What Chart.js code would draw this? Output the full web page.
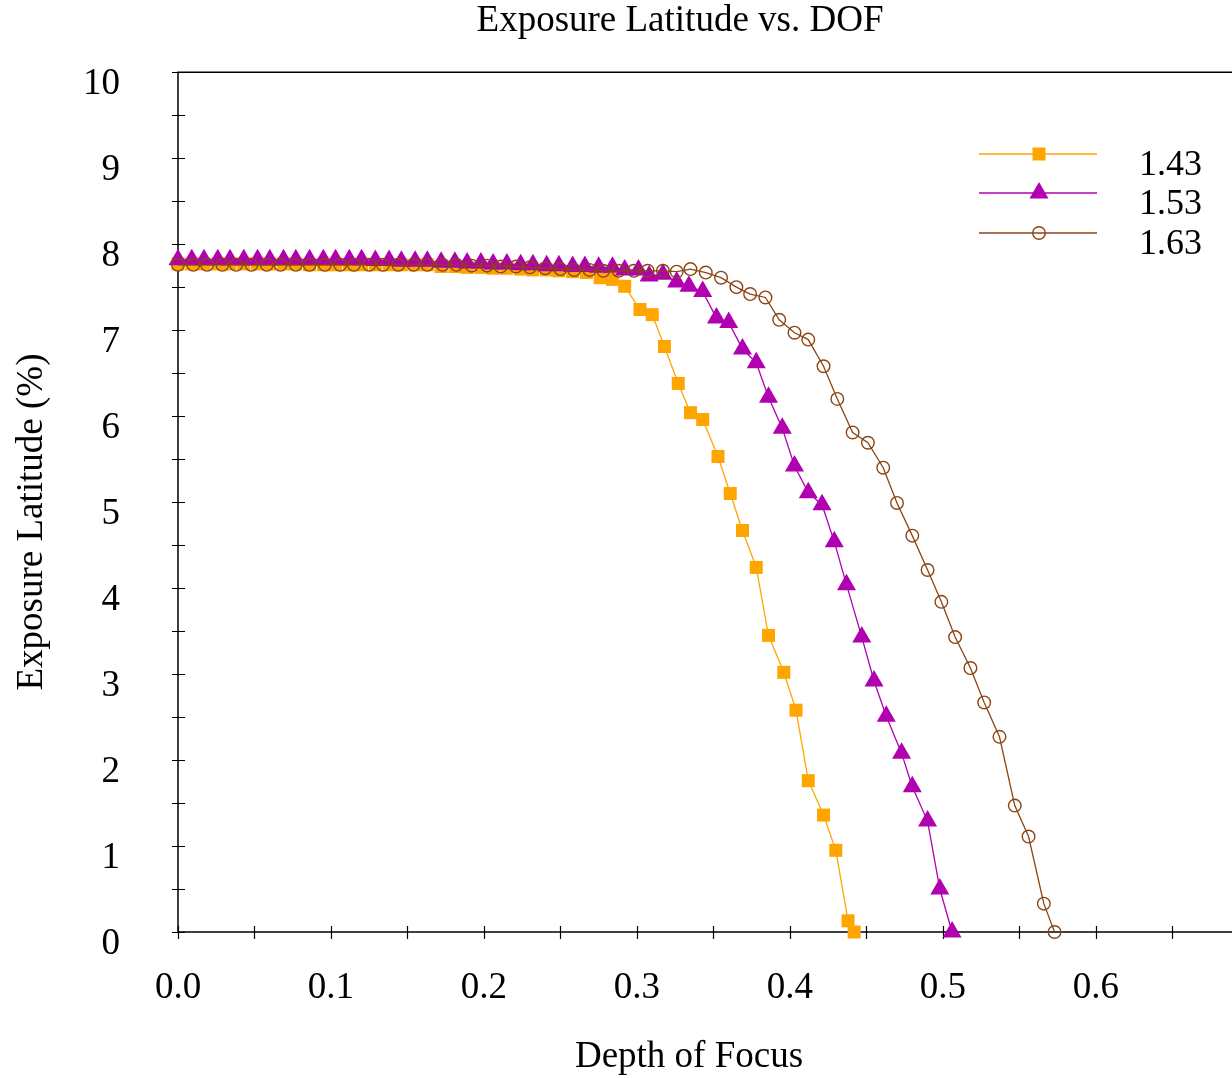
<!DOCTYPE html>
<html lang="en">
<head>
  <meta charset="UTF-8">
  <title>Exposure Latitude vs. DOF</title>
  <script src="https://cdn.jsdelivr.net/npm/chart.js"></script>
  <style>
    body {
      margin: 0;
      background: #fff;
    }
    .chart-box {
      width: 1232px;
      height: 1078px;
    }
  </style>
</head>
<body>
  <div class="chart-box">
    <canvas id="dofChart" width="1232" height="1078"></canvas>
  </div>

  <script>
    // series 1.43 (orange squares)
    const x143 = [0.000, 0.009, 0.017, 0.026, 0.034, 0.043, 0.052, 0.060, 0.069, 0.077,
      0.086, 0.095, 0.103, 0.112, 0.120, 0.129, 0.138, 0.146, 0.155, 0.163,
      0.172, 0.181, 0.189, 0.198, 0.206, 0.215, 0.224, 0.232, 0.241, 0.249, 0.258,
      0.267, 0.276, 0.284, 0.292, 0.302, 0.310, 0.318, 0.327, 0.335, 0.343,
      0.353, 0.361, 0.369, 0.378, 0.386, 0.396, 0.404, 0.412, 0.422, 0.430, 0.438, 0.442];
    const y143 = [7.77, 7.77, 7.77, 7.77, 7.77, 7.77, 7.77, 7.77, 7.77, 7.77,
      7.76, 7.76, 7.76, 7.76, 7.76, 7.76, 7.76, 7.76, 7.76, 7.76,
      7.74, 7.74, 7.73, 7.73, 7.72, 7.72, 7.71, 7.70, 7.70, 7.69, 7.68,
      7.67, 7.61, 7.59, 7.51, 7.24, 7.18, 6.81, 6.38, 6.04, 5.96,
      5.53, 5.10, 4.67, 4.24, 3.45, 3.02, 2.58, 1.76, 1.36, 0.95, 0.13, 0.00];

    // series 1.53 (magenta triangles)
    const x153 = [0.000, 0.009, 0.017, 0.026, 0.034, 0.043, 0.052, 0.060, 0.069, 0.077,
      0.086, 0.095, 0.103, 0.112, 0.120, 0.129, 0.138, 0.146, 0.155, 0.163,
      0.172, 0.181, 0.189, 0.198, 0.206, 0.215, 0.224, 0.232, 0.241, 0.249,
      0.258, 0.266, 0.275, 0.284, 0.292, 0.301, 0.308, 0.317, 0.326, 0.334,
      0.343, 0.352, 0.360, 0.369, 0.378, 0.386, 0.395, 0.403, 0.412, 0.421,
      0.429, 0.437, 0.447, 0.455, 0.463, 0.473, 0.480, 0.490, 0.498, 0.506];
    const y153 = [7.82, 7.82, 7.82, 7.82, 7.82, 7.82, 7.82, 7.82, 7.82, 7.82,
      7.82, 7.82, 7.82, 7.82, 7.82, 7.81, 7.81, 7.80, 7.80, 7.80,
      7.79, 7.79, 7.78, 7.78, 7.77, 7.77, 7.76, 7.76, 7.75, 7.75,
      7.74, 7.74, 7.73, 7.73, 7.70, 7.70, 7.63, 7.65, 7.56, 7.51,
      7.45, 7.14, 7.09, 6.78, 6.62, 6.22, 5.86, 5.42, 5.11, 4.97,
      4.54, 4.04, 3.43, 2.92, 2.51, 2.08, 1.69, 1.29, 0.50, 0.00];

    // series 1.63 (brown open circles)
    const x163 = [0.000, 0.010, 0.019, 0.029, 0.038, 0.048, 0.058, 0.067, 0.077, 0.086,
      0.096, 0.106, 0.115, 0.125, 0.134, 0.144, 0.154, 0.163, 0.173, 0.182,
      0.192, 0.202, 0.211, 0.221, 0.230, 0.240, 0.250, 0.259, 0.269, 0.278,
      0.288, 0.298, 0.307, 0.317,
      0.326, 0.335, 0.345, 0.355, 0.365, 0.374, 0.384, 0.393, 0.403, 0.412,
      0.422, 0.431, 0.441, 0.451, 0.461, 0.470, 0.480, 0.490, 0.499, 0.508,
      0.518, 0.527, 0.537, 0.547, 0.556, 0.566, 0.573];
    const y163 = [7.76, 7.76, 7.76, 7.76, 7.76, 7.76, 7.76, 7.76, 7.76, 7.76,
      7.76, 7.76, 7.76, 7.76, 7.76, 7.76, 7.76, 7.76, 7.76, 7.76,
      7.75, 7.75, 7.74, 7.74, 7.73, 7.72, 7.71, 7.70, 7.70, 7.69,
      7.69, 7.69, 7.69, 7.69,
      7.68, 7.71, 7.67, 7.61, 7.50, 7.42, 7.38, 7.12, 6.97, 6.89,
      6.58, 6.20, 5.81, 5.69, 5.40, 4.99, 4.61, 4.21, 3.84, 3.43,
      3.07, 2.67, 2.27, 1.47, 1.11, 0.33, 0.00];

    const seriesNames = ['1.43', '1.53', '1.63'];
    const serif = "'Liberation Serif', 'Times New Roman', serif";

    const toPoints = (xs, ys) => xs.map((x, i) => ({ x: x, y: ys[i] }));

    Chart.defaults.font.family = serif;
    Chart.defaults.font.size = 37;
    Chart.defaults.color = '#000';

    // gnuplot-style frame, crossing ticks, titles and in-plot key
    const gnuFrame = {
      id: 'gnuFrame',
      beforeDatasetsDraw(chart) {
        const { ctx, chartArea: a, scales: { x, y } } = chart;
        ctx.save();
        ctx.strokeStyle = '#000';
        ctx.lineWidth = 1.5;
        ctx.beginPath();
        ctx.moveTo(a.right, a.top);
        ctx.lineTo(a.left, a.top);
        ctx.lineTo(a.left, a.bottom);
        ctx.lineTo(a.right, a.bottom);
        ctx.stroke();
        ctx.lineWidth = 1.2;
        ctx.beginPath();
        x.ticks.forEach(t => {
          const px = Math.round(x.getPixelForValue(t.value)) + 0.5;
          ctx.moveTo(px, a.bottom - 6);
          ctx.lineTo(px, a.bottom + 7);
        });
        y.ticks.forEach(t => {
          const py = Math.round(y.getPixelForValue(t.value)) + 0.5;
          ctx.moveTo(a.left - 6, py);
          ctx.lineTo(a.left + 7, py);
        });
        ctx.stroke();
        ctx.restore();
      },
      afterDatasetsDraw(chart) {
        const { ctx } = chart;
        ctx.save();
        ctx.fillStyle = '#000';
        ctx.font = '37px ' + serif;
        ctx.textAlign = 'center';
        ctx.textBaseline = 'alphabetic';
        ctx.fillText('Exposure Latitude vs. DOF', 680, 31);
        ctx.fillText('Depth of Focus', 689, 1067);
        ctx.save();
        ctx.translate(42, 522);
        ctx.rotate(-Math.PI / 2);
        ctx.fillText('Exposure Latitude (%)', 0, 0);
        ctx.restore();

        // key
        ctx.font = '36px ' + serif;
        const rows = [154, 193, 233];
        chart.data.datasets.forEach((ds, i) => {
          const ly = rows[i];
          ctx.strokeStyle = ds.borderColor;
          ctx.lineWidth = ds.borderWidth;
          ctx.beginPath();
          ctx.moveTo(979, ly);
          ctx.lineTo(1097, ly);
          ctx.stroke();
          ctx.fillStyle = ds.pointBackgroundColor;
          ctx.strokeStyle = ds.pointBorderColor;
          ctx.lineWidth = ds.pointBorderWidth;
          Chart.helpers.drawPoint(ctx, {
            pointStyle: ds.pointStyle,
            radius: ds.pointRadius,
            borderWidth: ds.pointBorderWidth,
            rotation: 0
          }, 1039, ly);
          ctx.fillStyle = '#000';
          ctx.textAlign = 'left';
          ctx.fillText(ds.label, 1139, ly + 21);
        });
        ctx.restore();
      }
    };

    const ctx = document.getElementById('dofChart').getContext('2d');
    new Chart(ctx, {
      type: 'line',
      data: {
        datasets: [
          {
            label: seriesNames[0],
            data: toPoints(x143, y143),
            borderColor: '#ffa500',
            borderWidth: 1.3,
            pointStyle: 'rect',
            pointRadius: 9.2,
            pointBackgroundColor: '#ffa500',
            pointBorderColor: '#ffa500',
            pointBorderWidth: 0,
            order: 2,
            clip: false
          },
          {
            label: seriesNames[1],
            data: toPoints(x153, y153),
            borderColor: '#b000b0',
            borderWidth: 1.3,
            pointStyle: 'triangle',
            pointRadius: 11,
            pointBackgroundColor: '#b000b0',
            pointBorderColor: '#b000b0',
            pointBorderWidth: 0,
            order: 1,
            clip: false
          },
          {
            label: seriesNames[2],
            data: toPoints(x163, y163),
            borderColor: '#8b4513',
            borderWidth: 1.3,
            pointStyle: 'circle',
            pointRadius: 6.3,
            pointBackgroundColor: 'rgba(0,0,0,0)',
            pointBorderColor: '#8b4513',
            pointBorderWidth: 1.4,
            order: 0,
            clip: false
          }
        ]
      },
      options: {
        responsive: false,
        animation: false,
        layout: {
          autoPadding: false,
          padding: { top: 67, right: 0, left: 0, bottom: 0 }
        },
        plugins: {
          legend: { display: false },
          title: { display: false },
          tooltip: { enabled: false }
        },
        scales: {
          x: {
            type: 'linear',
            min: 0,
            max: 0.689,
            grid: { display: false },
            border: { display: false },
            ticks: {
              stepSize: 0.05,
              includeBounds: false,
              autoSkip: false,
              maxRotation: 0,
              padding: 26,
              callback: (v) => {
                const r = Math.round(v * 100);
                return r % 10 === 0 ? (r / 100).toFixed(1) : '';
              }
            },
            afterFit: (axis) => { axis.height = 146; }
          },
          y: {
            min: 0,
            max: 10,
            grid: { display: false },
            border: { display: false },
            ticks: {
              stepSize: 0.5,
              autoSkip: false,
              padding: 50,
              labelOffset: 12,
              callback: (v) => (Number.isInteger(v) ? String(v) : '')
            },
            afterFit: (axis) => { axis.width = 178; }
          }
        }
      },
      plugins: [gnuFrame]
    });
  </script>
</body>
</html>
